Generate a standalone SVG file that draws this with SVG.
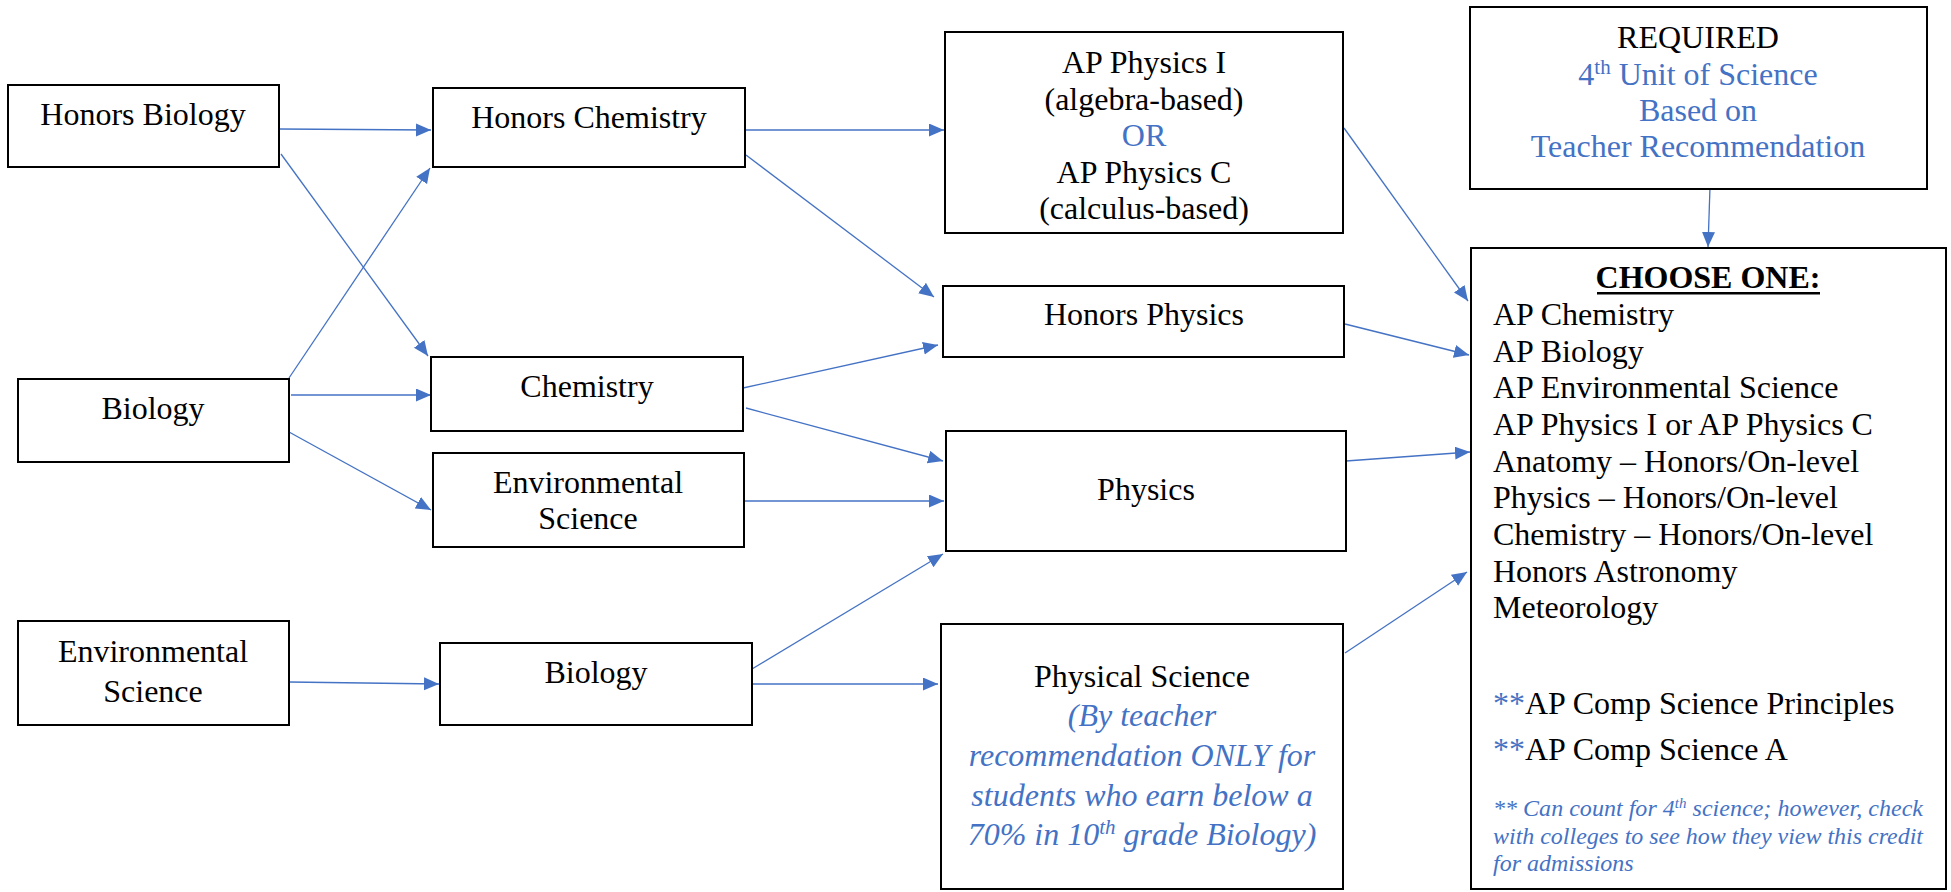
<svg xmlns="http://www.w3.org/2000/svg" width="1951" height="892" viewBox="0 0 1951 892">
<style>
.box{fill:#fff;stroke:#000;stroke-width:2}
text{font-family:"Liberation Serif","Times New Roman",serif;font-size:32px;fill:#000}
.c{text-anchor:middle}
.b{fill:#4472C4}
.i{font-style:italic}
.n{font-size:24px;font-style:italic;fill:#4472C4}
.e{fill:none;stroke:#4472C4;stroke-width:1.3;marker-end:url(#ah)}
</style>
<defs>
<marker id="ah" markerUnits="userSpaceOnUse" markerWidth="16" markerHeight="14" refX="15" refY="6.5" orient="auto">
<path d="M0,0 L15,6.5 L0,13 z" fill="#4472C4"/>
</marker>
</defs>
<rect width="1951" height="892" fill="#fff"/>
<g id="connectors">
<line class="e" x1="279" y1="129" x2="431" y2="130"/>
<line class="e" x1="281" y1="154" x2="428" y2="356"/>
<line class="e" x1="289" y1="378" x2="430" y2="168"/>
<line class="e" x1="291" y1="395" x2="431" y2="395"/>
<line class="e" x1="289" y1="432" x2="431" y2="510"/>
<line class="e" x1="289" y1="682" x2="439" y2="684"/>
<line class="e" x1="745" y1="130" x2="944" y2="130"/>
<line class="e" x1="746" y1="155" x2="934" y2="297"/>
<line class="e" x1="743" y1="388" x2="938" y2="345"/>
<line class="e" x1="746" y1="408" x2="943" y2="461"/>
<line class="e" x1="744" y1="501" x2="944" y2="501"/>
<line class="e" x1="752" y1="669" x2="943" y2="554"/>
<line class="e" x1="752" y1="684" x2="938" y2="684"/>
<line class="e" x1="1344" y1="128" x2="1468" y2="301"/>
<line class="e" x1="1345" y1="324" x2="1469" y2="355"/>
<line class="e" x1="1346" y1="461" x2="1470" y2="452"/>
<line class="e" x1="1345" y1="653" x2="1467" y2="572"/>
<line class="e" x1="1710" y1="187" x2="1708" y2="247"/>
</g>
<g id="honors-biology">
<rect class="box" x="8" y="85" width="271" height="82"/>
<text class="c" x="143" y="125">Honors Biology</text>
</g>
<g id="biology-left">
<rect class="box" x="18" y="379" width="271" height="83"/>
<text class="c" x="153" y="419">Biology</text>
</g>
<g id="envsci-left">
<rect class="box" x="18" y="621" width="271" height="104"/>
<text class="c" x="153" y="662">Environmental</text>
<text class="c" x="153" y="702">Science</text>
</g>
<g id="honors-chemistry">
<rect class="box" x="433" y="88" width="312" height="79"/>
<text class="c" x="589" y="128">Honors Chemistry</text>
</g>
<g id="chemistry">
<rect class="box" x="431" y="357" width="312" height="74"/>
<text class="c" x="587" y="397">Chemistry</text>
</g>
<g id="envsci-mid">
<rect class="box" x="433" y="453" width="311" height="94"/>
<text class="c" x="588" y="493">Environmental</text>
<text class="c" x="588" y="529">Science</text>
</g>
<g id="biology-mid">
<rect class="box" x="440" y="643" width="312" height="82"/>
<text class="c" x="596" y="683">Biology</text>
</g>
<g id="ap-physics">
<rect class="box" x="945" y="32" width="398" height="201"/>
<text class="c" x="1144" y="73">AP Physics I</text>
<text class="c" x="1144" y="110">(algebra-based)</text>
<text class="c b" x="1144" y="146">OR</text>
<text class="c" x="1144" y="183">AP Physics C</text>
<text class="c" x="1144" y="219">(calculus-based)</text>
</g>
<g id="honors-physics">
<rect class="box" x="943" y="286" width="401" height="71"/>
<text class="c" x="1144" y="325">Honors Physics</text>
</g>
<g id="physics">
<rect class="box" x="946" y="431" width="400" height="120"/>
<text class="c" x="1146" y="500">Physics</text>
</g>
<g id="physical-science">
<rect class="box" x="941" y="624" width="402" height="265"/>
<text class="c" x="1142" y="687">Physical Science</text>
<text class="c b i" x="1142" y="726">(By teacher</text>
<text class="c b i" x="1142" y="766">recommendation ONLY for</text>
<text class="c b i" x="1142" y="806">students who earn below a</text>
<text class="c b i" x="1142" y="845">70% in 10<tspan font-size="21" dy="-11">th</tspan><tspan dy="11"> grade Biology)</tspan></text>
</g>
<g id="required">
<rect class="box" x="1470" y="7" width="457" height="182"/>
<text class="c" x="1698" y="48">REQUIRED</text>
<text class="c b" x="1698" y="85">4<tspan font-size="21" dy="-11">th</tspan><tspan dy="11"> Unit of Science</tspan></text>
<text class="c b" x="1698" y="121">Based on</text>
<text class="c b" x="1698" y="157">Teacher Recommendation</text>
</g>
<g id="choose-one">
<rect class="box" x="1471" y="248" width="475" height="641"/>
<text class="c" x="1708" y="288" font-weight="bold">CHOOSE ONE:</text>
<rect x="1597" y="292" width="223" height="2.5" fill="#000"/>
<text x="1493" y="325">AP Chemistry</text>
<text x="1493" y="362">AP Biology</text>
<text x="1493" y="398">AP Environmental Science</text>
<text x="1493" y="435">AP Physics I or AP Physics C</text>
<text x="1493" y="472">Anatomy – Honors/On-level</text>
<text x="1493" y="508">Physics – Honors/On-level</text>
<text x="1493" y="545">Chemistry – Honors/On-level</text>
<text x="1493" y="582">Honors Astronomy</text>
<text x="1493" y="618">Meteorology</text>
<text x="1493" y="714"><tspan class="b">**</tspan>AP Comp Science Principles</text>
<text x="1493" y="760"><tspan class="b">**</tspan>AP Comp Science A</text>
<text class="n" x="1493" y="816" textLength="430" lengthAdjust="spacing">** Can count for 4<tspan font-size="15" dy="-8">th</tspan><tspan dy="8"> science; however, check</tspan></text>
<text class="n" x="1493" y="844" textLength="430" lengthAdjust="spacing">with colleges to see how they view this credit</text>
<text class="n" x="1493" y="871">for admissions</text>
</g>
</svg>
